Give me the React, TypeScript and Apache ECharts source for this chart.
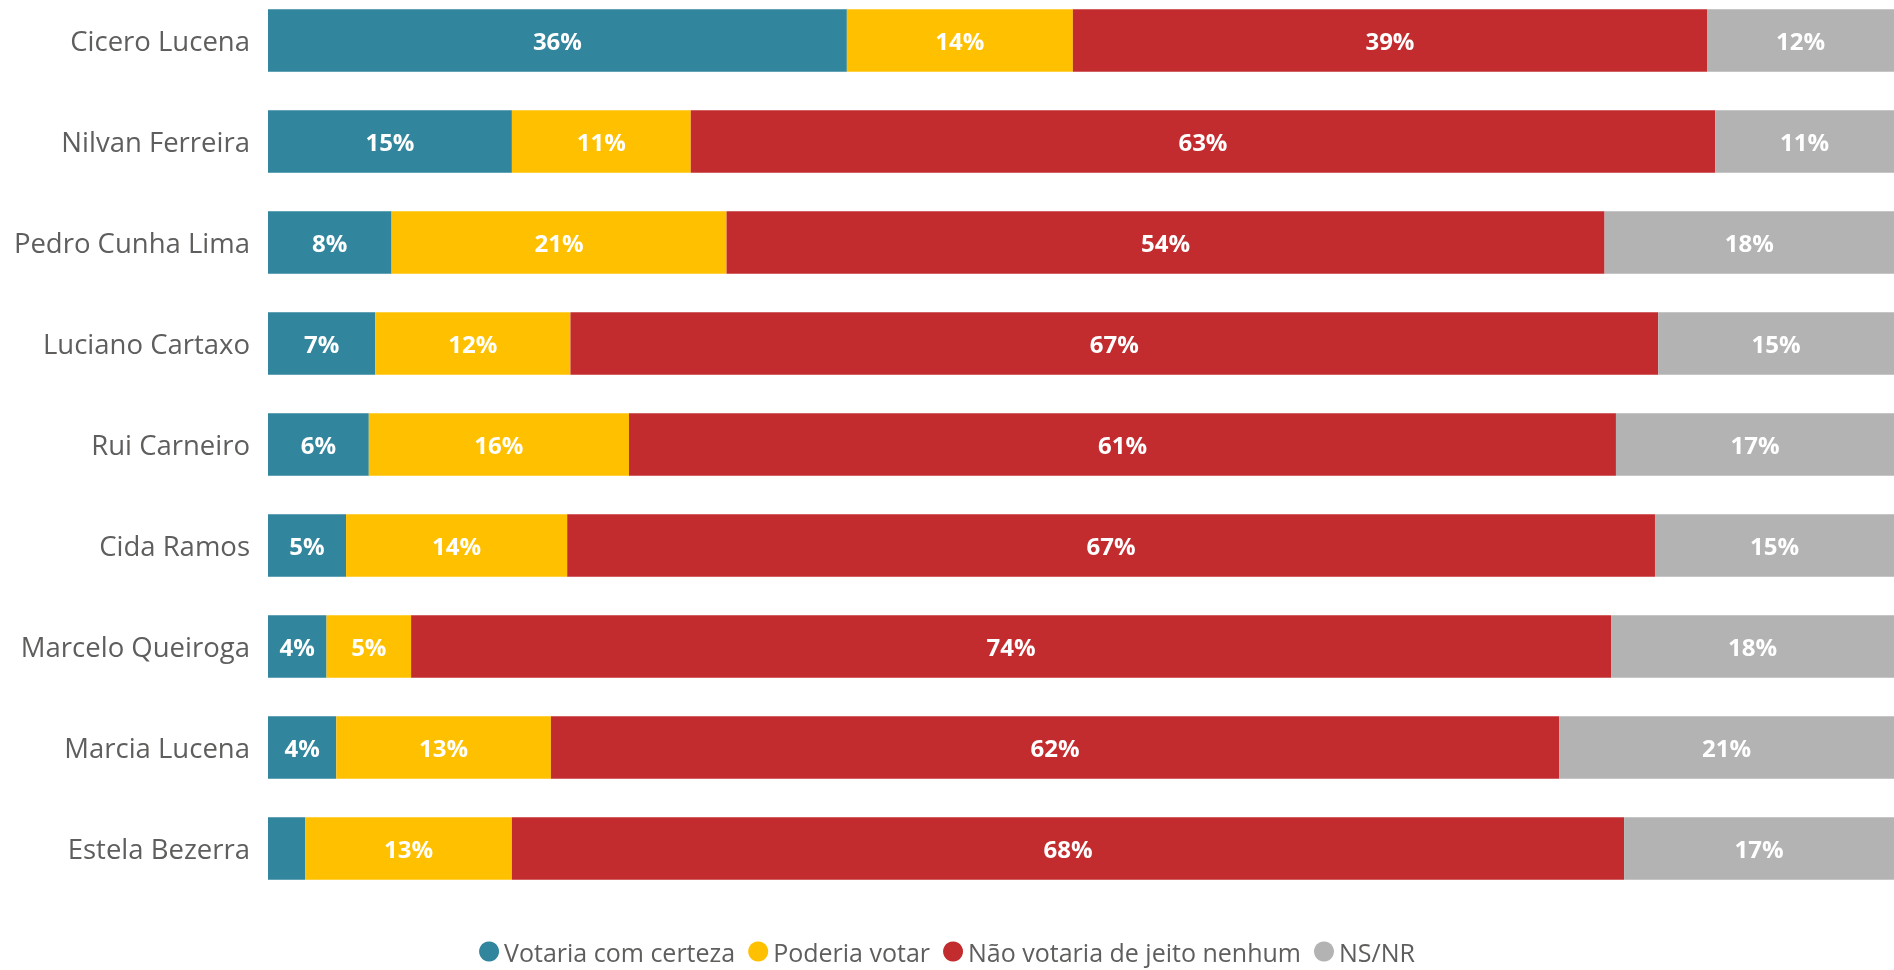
import React, { useEffect, useRef } from "react";
import * as echarts from "echarts";

const categories = [
  "Cicero Lucena",
  "Nilvan Ferreira",
  "Pedro Cunha Lima",
  "Luciano Cartaxo",
  "Rui Carneiro",
  "Cida Ramos",
  "Marcelo Queiroga",
  "Marcia Lucena",
  "Estela Bezerra",
];

const votariaComCerteza = [35.6, 15.0, 7.6, 6.6, 6.2, 4.8, 3.6, 4.2, 2.3];
const poderiaVotar = [13.9, 11.0, 20.6, 12.0, 16.0, 13.6, 5.2, 13.2, 12.7];
const naoVotaria = [39.0, 63.0, 54.0, 66.9, 60.7, 66.9, 73.8, 62.0, 68.4];
const nsNr = [11.5, 11.0, 17.8, 14.5, 17.1, 14.7, 17.5, 20.6, 16.6];

const seriesNames = [
  "Votaria com certeza",
  "Poderia votar",
  "Não votaria de jeito nenhum",
  "NS/NR",
];
const seriesData = [votariaComCerteza, poderiaVotar, naoVotaria, nsNr];
const colors = ["#31859C", "#FFC000", "#C32C2F", "#B3B3B3"];

const FONT = "'Segoe UI', 'Open Sans', sans-serif";

export default function App() {
  const ref = useRef<HTMLDivElement>(null);
  useEffect(() => {
    if (!ref.current) return;
    const chart = echarts.init(ref.current, undefined, { renderer: "svg" });
    chart.setOption({
      animation: false,
      color: colors,
      grid: { left: 268, right: 0, top: 0, bottom: 71, containLabel: false },
      legend: {
        data: seriesNames,
        top: 944,
        left: "center",
        icon: "circle",
        itemWidth: 20,
        itemHeight: 20,
        itemGap: 13,
        textStyle: { fontFamily: FONT, fontSize: 25, color: "#605E5C" },
      },
      xAxis: { type: "value", min: 0, max: 100, show: false },
      yAxis: {
        type: "category",
        data: categories,
        inverse: true,
        axisLine: { show: false },
        axisTick: { show: false },
        axisLabel: {
          fontFamily: FONT,
          fontSize: 27.5,
          color: "#605E5C",
          margin: 18,
        },
      },
      series: seriesNames.map((name, i) => ({
        name,
        type: "bar",
        stack: "total",
        barCategoryGap: "38%",
        data: seriesData[i],
        label: {
          show: true,
          position: "inside",
          color: "#FFFFFF",
          fontFamily: FONT,
          fontWeight: "bold",
          fontSize: 24,
          formatter: (p: any) => (p.value < 3 ? "" : Math.round(p.value) + "%"),
        },
      })),
    });
    return () => chart.dispose();
  }, []);
  return (
    <div
      ref={ref}
      style={{ position: "fixed", left: 0, top: -10, width: 1894, height: 980 }}
    />
  );
}
